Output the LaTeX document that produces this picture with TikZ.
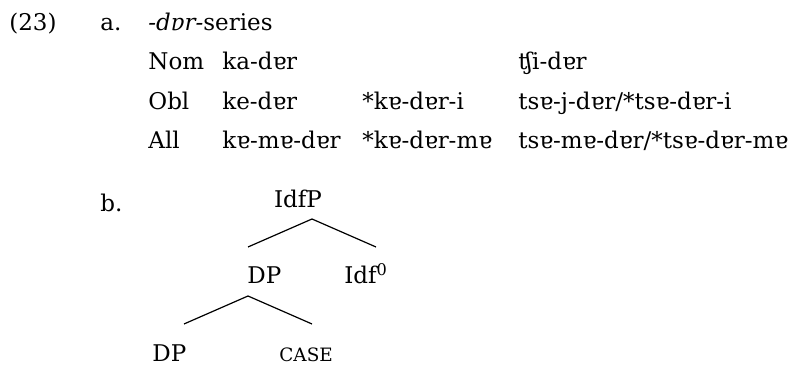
\documentclass[tikz,border=0pt]{standalone}
\usepackage{fontspec}
\setmainfont{DejaVu Serif}
\usetikzlibrary{positioning}

\begin{document}
\begin{tikzpicture}[x=0.5pt, y=-0.5pt, font=\fontsize{11.5}{14}\selectfont,
    every node/.style={inner sep=0pt, anchor=base west},
    branch/.style={line width=0.6pt}]
\useasboundingbox (0,0) rectangle (793,367);

% (23a): the paradigm
\node (ex-num) at (9,31) {(23)};
\node (ex-a) at (100,31) {a.};
\node (title) at (148,31) {\textit{-dɐr-}series};

\begin{scope}
    \node (nom) at (148,70) {Nom};
    \node (nom-ka) at (222,70) {ka-dɐr};
    \node (nom-tshi) at (518,70) {ʧi-dɐr};

    \node (obl) at (148,110) {Obl};
    \node (obl-ke) at (222,110) {ke-dɐr};
    \node (obl-star) at (362,110) {*kɐ-dɐr-i};
    \node (obl-tse) at (518,110) {tsɐ-j-dɐr/*tsɐ-dɐr-i};

    \node (all) at (148,149) {All};
    \node (all-ke) at (222,149) {kɐ-mɐ-dɐr};
    \node (all-star) at (362,149) {*kɐ-dɐr-mɐ};
    \node (all-tse) at (518,149) {tsɐ-mɐ-dɐr/*tsɐ-dɐr-mɐ};
\end{scope}

% (23b): the tree
\node (ex-b) at (100,212) {b.};
\node[anchor=base] (idfp) at (298,208) {IdfP};
\node (dp-top) at (247,284) {DP};
\node (idf-head) at (344,284) {Idf\textsuperscript{0}};
\node (dp-low) at (152,362) {DP};
\node (case) at (279,362) {\fontsize{9.2}{11}\selectfont CASE};

\coordinate (idfp-apex) at (312,219);
\coordinate (idfp-left) at (248,247);
\coordinate (idfp-right) at (376,247);
\coordinate (dp-apex) at (248,296);
\coordinate (dp-left) at (184,324);
\coordinate (dp-right) at (312,324);

\draw[branch] (idfp-left) -- (idfp-apex) -- (idfp-right);
\draw[branch] (dp-left) -- (dp-apex) -- (dp-right);

\end{tikzpicture}
\end{document}
